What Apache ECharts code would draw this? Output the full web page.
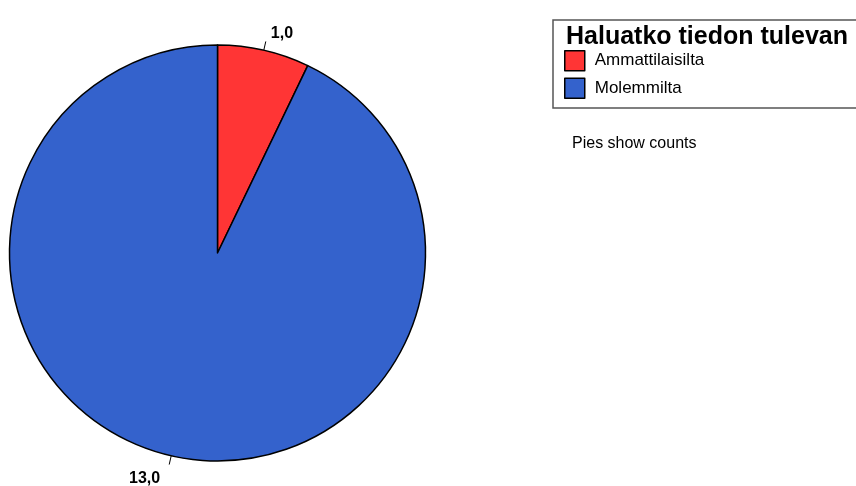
<!DOCTYPE html>
<html>
<head>
<meta charset="utf-8">
<script src="https://cdn.jsdelivr.net/npm/echarts@6/dist/echarts.min.js"></script>
<style>
  html, body { margin: 0; padding: 0; background: #fff; }
  #chart { width: 856px; height: 486px; }
</style>
</head>
<body>
<div id="chart"></div>
<script>
var legendTitle = "Haluatko tiedon tulevan";
var categories = ["Ammattilaisilta", "Molemmilta"];
var counts = [1, 13];
var colorList = ["#FF3535", "#3462CC"];
var note = "Pies show counts";

var sans = "'Liberation Sans', Arial, sans-serif";

var chart = echarts.init(document.getElementById("chart"), null, { renderer: "canvas" });

// first label sits above its leader line end, second one below it
var pieData = categories.map(function (name, i) {
  return {
    name: name,
    value: counts[i],
    itemStyle: { color: colorList[i] },
    label: i === 0 ? { lineHeight: 15, distanceToLabelLine: 5 } : { lineHeight: 28, distanceToLabelLine: 9 }
  };
});

var option = {
  animation: false,
  backgroundColor: "#fff",
  graphic: [
    {
      type: "rect",
      shape: { x: 553, y: 20, width: 330, height: 88 },
      style: { fill: "#fff", stroke: "#555", lineWidth: 1.5 },
      z: 0
    },
    {
      type: "text",
      x: 566,
      y: 50,
      style: {
        text: legendTitle,
        font: "bold 25px " + sans,
        fill: "#000",
        verticalAlign: "bottom"
      },
      z: 1
    },
    {
      type: "text",
      x: 572,
      y: 152,
      style: {
        text: note,
        font: "16px " + sans,
        fill: "#000",
        verticalAlign: "bottom"
      }
    }
  ],
  legend: {
    orient: "vertical",
    left: 559,
    top: 45,
    itemWidth: 20,
    itemHeight: 20,
    itemGap: 6,
    icon: "rect",
    selectedMode: false,
    data: categories,
    itemStyle: { borderColor: "#000", borderWidth: 1.5 },
    textStyle: {
      color: "#000",
      fontFamily: sans,
      fontSize: 17,
      padding: [0, 0, 0, 5]
    },
    z: 2
  },
  series: [
    {
      type: "pie",
      center: [217.5, 253],
      radius: 208,
      startAngle: 90,
      clockwise: true,
      data: pieData,
      itemStyle: { borderColor: "#000", borderWidth: 1.5 },
      label: {
        show: true,
        position: "outside",
        formatter: function (p) {
          var txt = p.value.toFixed(1).replace(".", ",");
          return p.dataIndex === 0 ? txt + "\n " : " \n" + txt;
        },
        color: "#000",
        fontFamily: sans,
        fontWeight: "bold",
        fontSize: 16
      },
      labelLine: {
        show: true,
        length: 9,
        length2: 0,
        lineStyle: { color: "#000", width: 1 }
      },
      emphasis: { disabled: true }
    }
  ]
};

chart.setOption(option);
</script>
</body>
</html>
